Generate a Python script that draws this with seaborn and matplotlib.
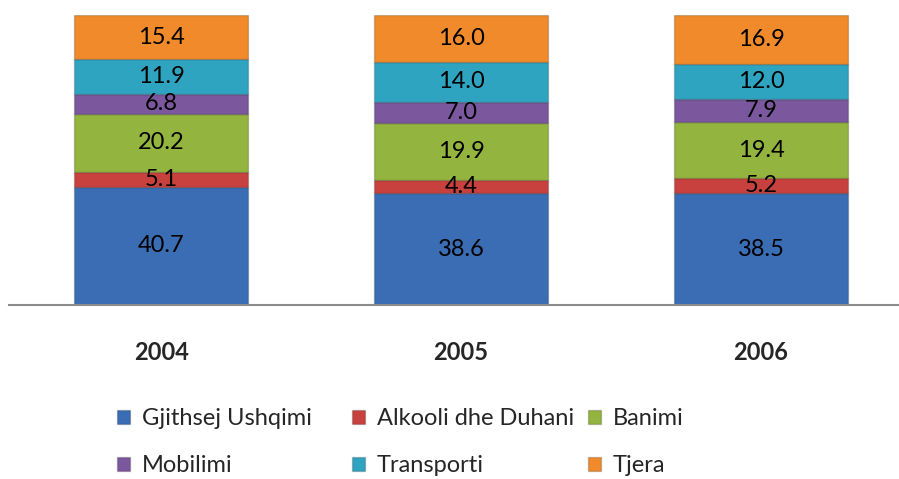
import pandas as pd
import matplotlib.pyplot as plt
import seaborn as sns

years = ["2004", "2005", "2006"]
categories = ["Gjithsej Ushqimi", "Alkooli dhe Duhani", "Banimi", "Mobilimi", "Transporti", "Tjera"]
ushqimi = [40.7, 38.6, 38.5]
alkooli = [5.1, 4.4, 5.2]
banimi = [20.2, 19.9, 19.4]
mobilimi = [6.8, 7.0, 7.9]
transporti = [11.9, 14.0, 12.0]
tjera = [15.4, 16.0, 16.9]
colors = ["#3a6db3", "#c9413e", "#93b43e", "#7b579e", "#2ea4c0", "#f08a2b"]

df = pd.DataFrame({"Year": years, "Gjithsej Ushqimi": ushqimi, "Alkooli dhe Duhani": alkooli,
                   "Banimi": banimi, "Mobilimi": mobilimi, "Transporti": transporti, "Tjera": tjera})

sns.set_style("white")
plt.rcParams['font.family'] = ['Lato', 'DejaVu Sans']

fig = plt.figure(figsize=(8.99, 4.79), dpi=100)
ax = fig.add_axes([9 / 899, 1 - 305 / 479, 890 / 899, 290 / 479])

bottom = [0, 0, 0]
for cat, col in zip(categories, colors):
    sns.barplot(data=df, x="Year", y=cat, color=col, bottom=bottom, width=0.58,
                label=cat, ax=ax, edgecolor="#00000030", linewidth=1.0, saturation=1, legend=False)
    bottom = [b + v for b, v in zip(bottom, df[cat])]

for cont in ax.containers:
    ax.bar_label(cont, fmt="%.1f", label_type="center", fontsize=17, color="black")

ax.set_ylim(0, 100)
ax.set_xlim(-0.507, 2.46)
ax.set_xlabel("")
ax.set_ylabel("")
ax.set_yticks([])
ax.tick_params(axis="x", length=0, pad=26, labelsize=17)
for lab in ax.get_xticklabels():
    lab.set_fontweight("bold")
for s in ["top", "left", "right"]:
    ax.spines[s].set_visible(False)
ax.spines["bottom"].set_color("#8c8c8c")
ax.spines["bottom"].set_linewidth(1.5)

handles, labels = ax.get_legend_handles_labels()
if ax.get_legend() is not None:
    ax.get_legend().remove()

# legend in 3 equal-width columns, row-major like the original
col_x = [117, 352, 588]
for j, x in enumerate(col_x):
    idx = [j, j + 3]
    leg = fig.legend([handles[i] for i in idx], [labels[i] for i in idx], ncol=1, loc="upper left",
                     bbox_to_anchor=(x / 899, 1 - 408 / 479),
                     frameon=False, fontsize=17, handlelength=0.55, handleheight=0.55,
                     handletextpad=0.5, labelspacing=1.12, borderpad=0, borderaxespad=0)

fig.savefig("out.png", dpi=100)
